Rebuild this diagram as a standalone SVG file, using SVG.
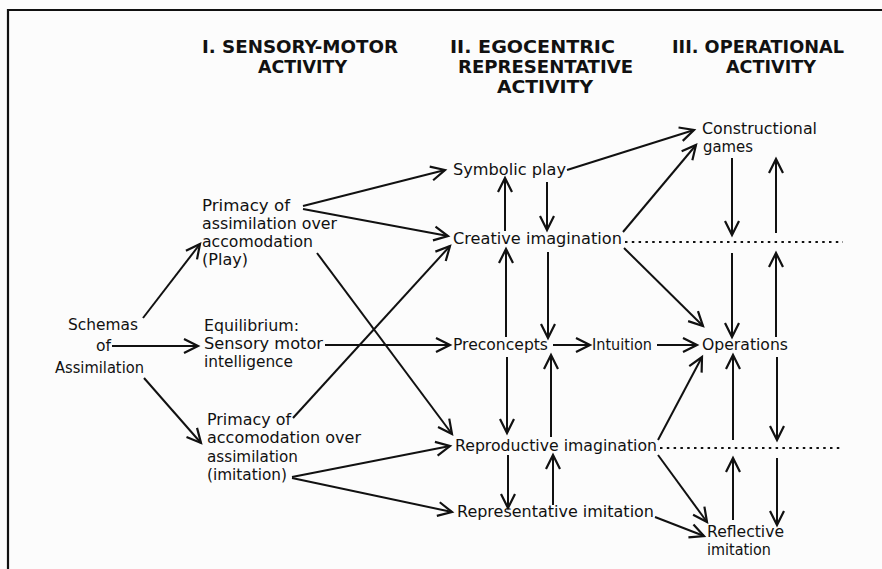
<svg xmlns="http://www.w3.org/2000/svg" width="882" height="569" viewBox="0 0 882 569">
<style>
.t{font-family:"DejaVu Sans","Liberation Sans",sans-serif;font-size:15px;fill:#111}
.h{font-family:"DejaVu Sans Condensed","DejaVu Sans","Liberation Sans",sans-serif;font-size:18px;font-weight:bold;fill:#111}
.c line{stroke:#111;stroke-width:2;marker-end:url(#a)}
.d{stroke:#111;stroke-width:2;stroke-dasharray:2.5 4.3;fill:none}
</style>
<defs>
<marker id="a" viewBox="-16 -9 18 18" refX="0" refY="0" markerWidth="18" markerHeight="18" markerUnits="userSpaceOnUse" orient="auto" overflow="visible">
<path d="M-14,-7 L0,0 L-14,7" fill="none" stroke="#111" stroke-width="2.2"/>
</marker>
</defs>
<rect width="882" height="569" fill="#fcfcfc"/>
<path d="M882,10 H8 V569" fill="none" stroke="#111" stroke-width="2.2"/>

<g id="header1">
<text class="h" x="202" y="53" textLength="196" lengthAdjust="spacingAndGlyphs">I. SENSORY-MOTOR</text>
<text class="h" x="258" y="73" textLength="89" lengthAdjust="spacingAndGlyphs">ACTIVITY</text>
</g>
<g id="header2">
<text class="h" x="450" y="53" textLength="165" lengthAdjust="spacingAndGlyphs">II. EGOCENTRIC</text>
<text class="h" x="458" y="73" textLength="175" lengthAdjust="spacingAndGlyphs">REPRESENTATIVE</text>
<text class="h" x="497" y="93" textLength="96" lengthAdjust="spacingAndGlyphs">ACTIVITY</text>
</g>
<g id="header3">
<text class="h" x="672" y="53" textLength="172" lengthAdjust="spacingAndGlyphs">III. OPERATIONAL</text>
<text class="h" x="726" y="73" textLength="90" lengthAdjust="spacingAndGlyphs">ACTIVITY</text>
</g>

<g id="schemas">
<text class="t" x="68" y="330" textLength="70" lengthAdjust="spacingAndGlyphs">Schemas</text>
<text class="t" x="96" y="351" textLength="15" lengthAdjust="spacingAndGlyphs">of</text>
<text class="t" x="55" y="373" textLength="89" lengthAdjust="spacingAndGlyphs">Assimilation</text>
</g>
<g id="primacy-assimilation">
<text class="t" x="202" y="211" textLength="88" lengthAdjust="spacingAndGlyphs">Primacy of</text>
<text class="t" x="202" y="229" textLength="135" lengthAdjust="spacingAndGlyphs">assimilation over</text>
<text class="t" x="202" y="247" textLength="111" lengthAdjust="spacingAndGlyphs">accomodation</text>
<text class="t" x="202" y="265" textLength="46" lengthAdjust="spacingAndGlyphs">(Play)</text>
</g>
<g id="equilibrium">
<text class="t" x="204" y="331" textLength="95" lengthAdjust="spacingAndGlyphs">Equilibrium:</text>
<text class="t" x="204" y="349" textLength="119" lengthAdjust="spacingAndGlyphs">Sensory motor</text>
<text class="t" x="204" y="367" textLength="89" lengthAdjust="spacingAndGlyphs">intelligence</text>
</g>
<g id="primacy-accomodation">
<text class="t" x="207" y="425" textLength="84" lengthAdjust="spacingAndGlyphs">Primacy of</text>
<text class="t" x="207" y="443" textLength="154" lengthAdjust="spacingAndGlyphs">accomodation over</text>
<text class="t" x="207" y="462" textLength="91" lengthAdjust="spacingAndGlyphs">assimilation</text>
<text class="t" x="207" y="480" textLength="80" lengthAdjust="spacingAndGlyphs">(imitation)</text>
</g>
<g id="symbolic-play"><text class="t" x="453" y="175" textLength="113" lengthAdjust="spacingAndGlyphs">Symbolic play</text></g>
<g id="creative-imagination"><text class="t" x="453" y="244" textLength="169" lengthAdjust="spacingAndGlyphs">Creative imagination</text></g>
<g id="preconcepts"><text class="t" x="453" y="350" textLength="95" lengthAdjust="spacingAndGlyphs">Preconcepts</text></g>
<g id="intuition"><text class="t" x="592" y="350" textLength="60" lengthAdjust="spacingAndGlyphs">Intuition</text></g>
<g id="reproductive-imagination"><text class="t" x="455" y="451" textLength="202" lengthAdjust="spacingAndGlyphs">Reproductive imagination</text></g>
<g id="representative-imitation"><text class="t" x="457" y="517" textLength="197" lengthAdjust="spacingAndGlyphs">Representative imitation</text></g>
<g id="constructional-games">
<text class="t" x="702" y="134" textLength="115" lengthAdjust="spacingAndGlyphs">Constructional</text>
<text class="t" x="703" y="152" textLength="50" lengthAdjust="spacingAndGlyphs">games</text>
</g>
<g id="operations"><text class="t" x="702" y="350" textLength="86" lengthAdjust="spacingAndGlyphs">Operations</text></g>
<g id="reflective-imitation">
<text class="t" x="707" y="537" textLength="77" lengthAdjust="spacingAndGlyphs">Reflective</text>
<text class="t" x="707" y="555" textLength="64" lengthAdjust="spacingAndGlyphs">imitation</text>
</g>

<g id="connectors" class="c">
<line x1="143" y1="318" x2="200" y2="244"/>
<line x1="112" y1="346" x2="198" y2="346"/>
<line x1="144" y1="378" x2="201" y2="443"/>
<line x1="303" y1="206" x2="445" y2="170"/>
<line x1="303" y1="209" x2="448" y2="236"/>
<line x1="317" y1="253" x2="452" y2="434"/>
<line x1="325" y1="345" x2="450" y2="345"/>
<line x1="293" y1="418" x2="450" y2="246"/>
<line x1="292" y1="477" x2="450" y2="446"/>
<line x1="292" y1="478" x2="452" y2="512"/>
<line x1="567" y1="170" x2="694" y2="130"/>
<line x1="623" y1="232" x2="696" y2="145"/>
<line x1="624" y1="248" x2="703" y2="326"/>
<line x1="505" y1="231" x2="505" y2="178"/>
<line x1="547" y1="182" x2="547" y2="230"/>
<line x1="506" y1="337" x2="506" y2="249"/>
<line x1="548" y1="252" x2="548" y2="338"/>
<line x1="553" y1="345" x2="590" y2="345"/>
<line x1="657" y1="345" x2="697" y2="345"/>
<line x1="507" y1="357" x2="507" y2="433"/>
<line x1="551" y1="437" x2="551" y2="355"/>
<line x1="508" y1="455" x2="508" y2="508"/>
<line x1="553" y1="505" x2="553" y2="455"/>
<line x1="658" y1="440" x2="702" y2="357"/>
<line x1="658" y1="455" x2="707" y2="522"/>
<line x1="655" y1="517" x2="704" y2="536"/>
<line x1="732" y1="158" x2="732" y2="235"/>
<line x1="776" y1="233" x2="776" y2="159"/>
<line x1="732" y1="253" x2="732" y2="337"/>
<line x1="776" y1="337" x2="776" y2="253"/>
<line x1="733" y1="440" x2="733" y2="355"/>
<line x1="777" y1="357" x2="777" y2="440"/>
<line x1="733" y1="520" x2="733" y2="458"/>
<line x1="777" y1="458" x2="777" y2="525"/>
<path class="d" d="M625,242 H843 M660,448 H843"/>
</g>
</svg>
